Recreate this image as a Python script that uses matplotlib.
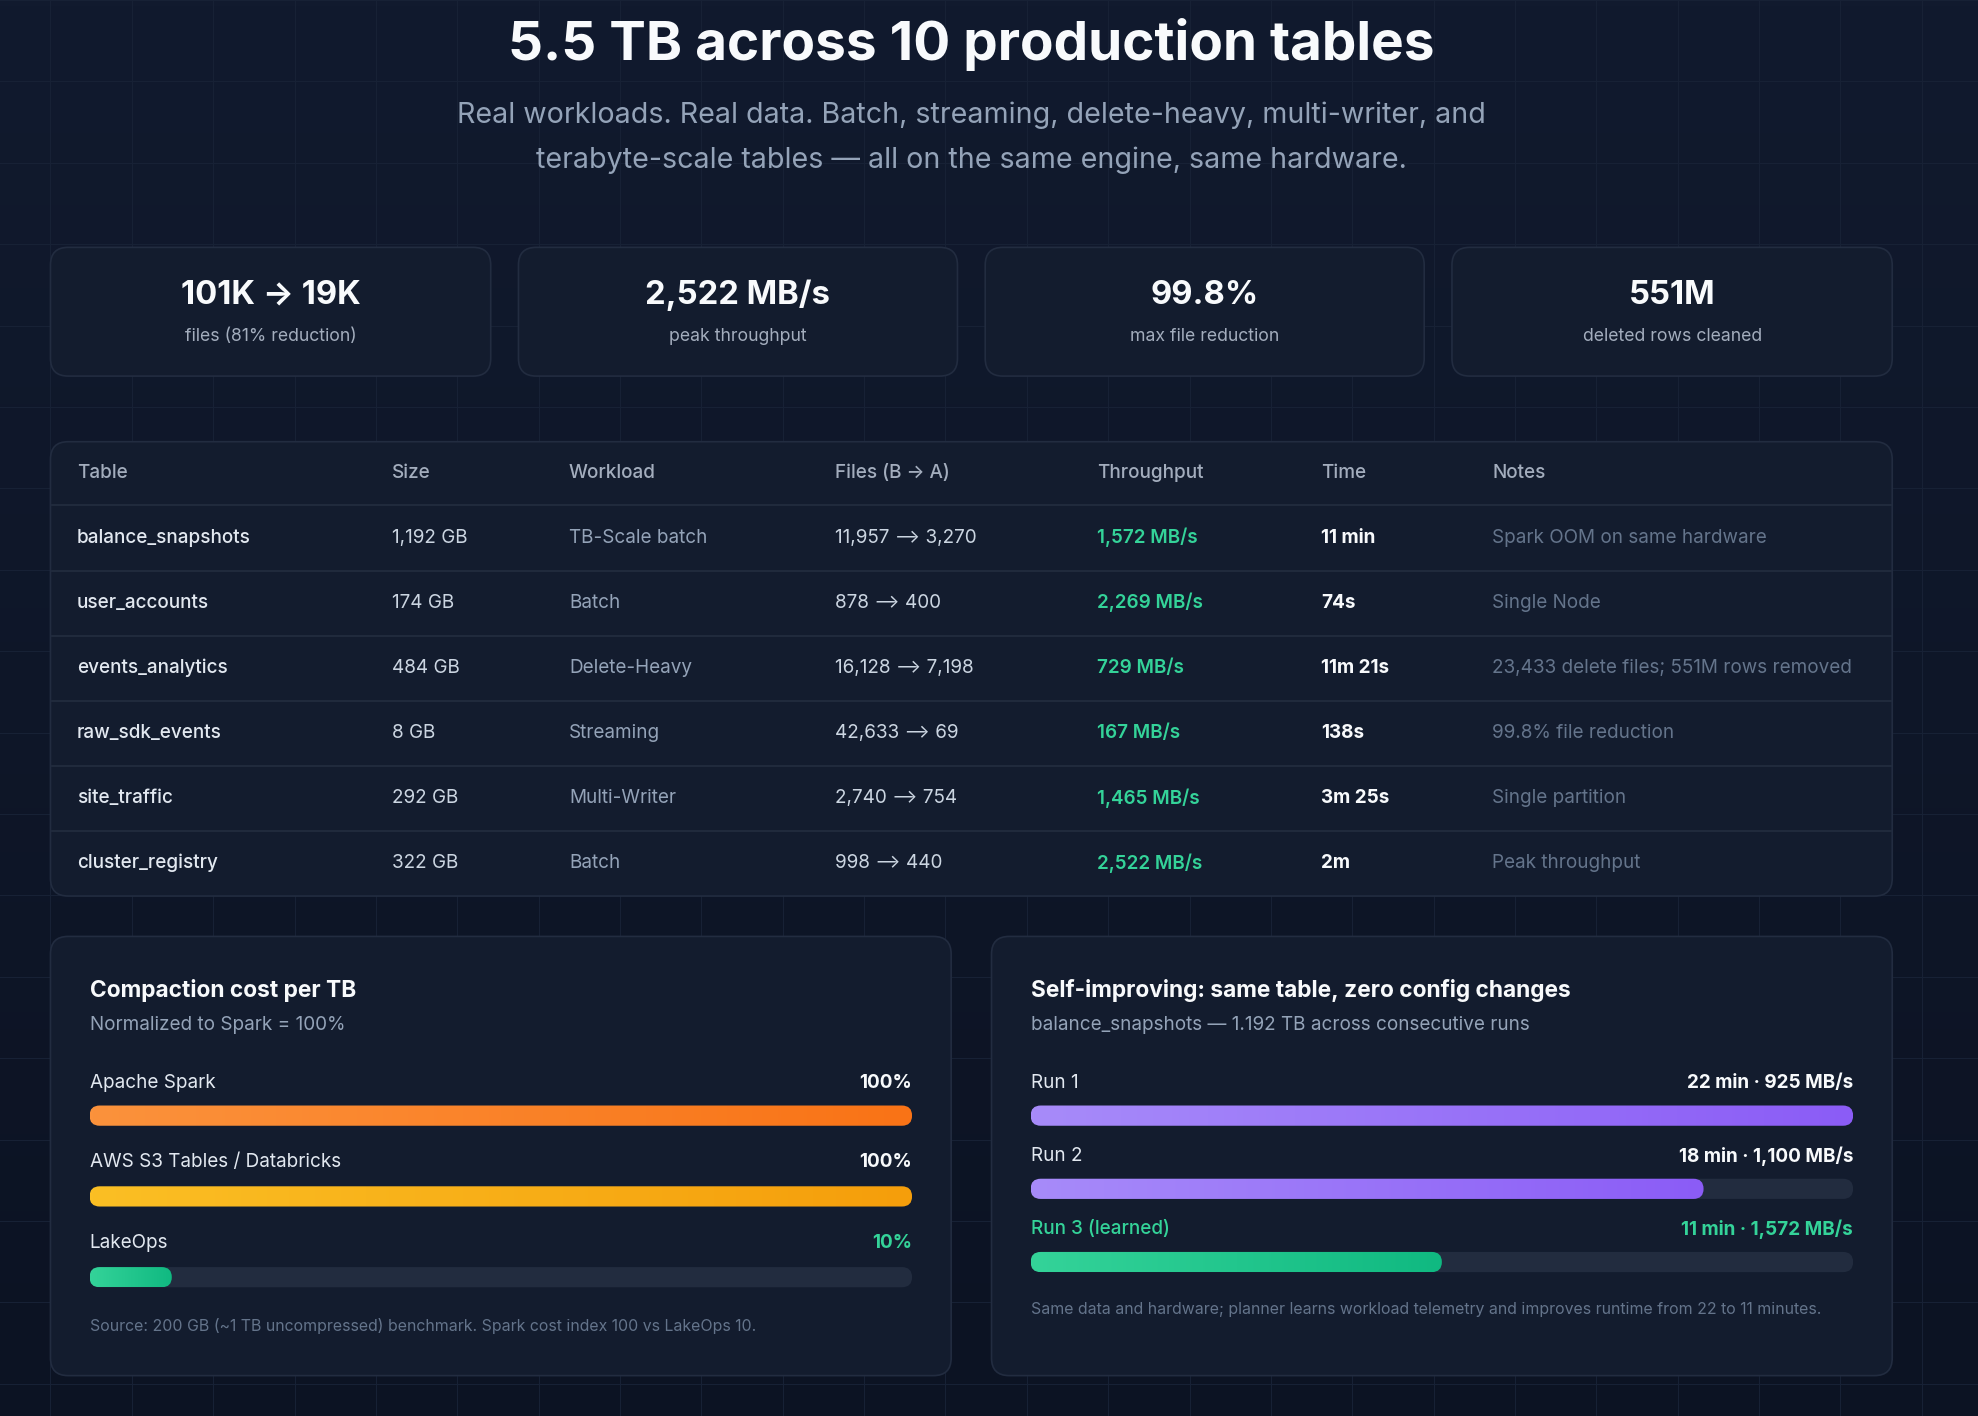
import matplotlib
matplotlib.use("Agg")
import matplotlib.pyplot as plt
import numpy as np
from matplotlib.patches import FancyBboxPatch
from matplotlib.colors import LinearSegmentedColormap

plt.rcParams['font.family'] = ['Inter', 'DejaVu Sans']

# ---------------- data ----------------
title = "5.5 TB across 10 production tables"
subtitle = ["Real workloads. Real data. Batch, streaming, delete-heavy, multi-writer, and",
            "terabyte-scale tables \u2014 all on the same engine, same hardware."]
kpi_values = ["101K \u2192 19K", "2,522 MB/s", "99.8%", "551M"]
kpi_labels = ["files (81% reduction)", "peak throughput", "max file reduction", "deleted rows cleaned"]

headers = ["Table", "Size", "Workload", "Files (B \u2192 A)", "Throughput", "Time", "Notes"]
tables = ["balance_snapshots", "user_accounts", "events_analytics", "raw_sdk_events", "site_traffic", "cluster_registry"]
sizes = ["1,192 GB", "174 GB", "484 GB", "8 GB", "292 GB", "322 GB"]
workloads = ["TB-Scale batch", "Batch", "Delete-Heavy", "Streaming", "Multi-Writer", "Batch"]
files = ["11,957 \u27f6 3,270", "878 \u27f6 400", "16,128 \u27f6 7,198", "42,633 \u27f6 69", "2,740 \u27f6 754", "998 \u27f6 440"]
throughput = ["1,572 MB/s", "2,269 MB/s", "729 MB/s", "167 MB/s", "1,465 MB/s", "2,522 MB/s"]
times = ["11 min", "74s", "11m 21s", "138s", "3m 25s", "2m"]
notes = ["Spark OOM on same hardware", "Single Node", "23,433 delete files; 551M rows removed",
         "99.8% file reduction", "Single partition", "Peak throughput"]

cost_labels = ["Apache Spark", "AWS S3 Tables / Databricks", "LakeOps"]
cost_values = [100, 100, 10]
run_labels = ["Run 1", "Run 2", "Run 3 (learned)"]
run_minutes = [22, 18, 11]
run_mbps = ["925", "1,100", "1,572"]

# ---------------- setup ----------------
W, H = 1568, 1122
fig = plt.figure(figsize=(19.78, 14.16), dpi=100)
fig.patch.set_facecolor('#0d1526')
ax = fig.add_axes([0, 0, 1, 1])
ax.set_xlim(0, W); ax.set_ylim(H, 0); ax.axis('off')

def fs(px):
    return px * 1978 / 1568 * 0.72

bg = np.linspace(0, 1, 256).reshape(-1, 1)
bgcm = LinearSegmentedColormap.from_list('bg', ['#111a2e', '#0c1323'])
ax.imshow(bg, extent=[0, W, H, 0], cmap=bgcm, aspect='auto', zorder=0)
for gx in np.arange(40, W, 64.5):
    ax.plot([gx, gx], [0, H], color='#172135', lw=0.8, zorder=0.5)
for gy in np.arange(0, H, 64.5):
    ax.plot([0, W], [gy, gy], color='#172135', lw=0.8, zorder=0.5)

def card(x0, y0, x1, y1, fc='#131c2e', ec='#222c40', r=14):
    p = FancyBboxPatch((x0, y0), x1 - x0, y1 - y0, boxstyle=f"round,pad=0,rounding_size={r}",
                       fc=fc, ec=ec, lw=1.2, zorder=1)
    ax.add_patch(p)

WHITE = '#f8fafc'
ax.text(770, 35, title, ha='center', va='center', color=WHITE, fontsize=fs(43.5), fontweight='bold', zorder=3)
ax.text(770, 91, subtitle[0], ha='center', va='center', color='#94a3b8', fontsize=fs(22.7), zorder=3)
ax.text(770, 127, subtitle[1], ha='center', va='center', color='#94a3b8', fontsize=fs(22.7), zorder=3)

kx = [(40, 389), (411, 759), (781, 1129), (1151, 1500)]
for (x0, x1), v, l in zip(kx, kpi_values, kpi_labels):
    card(x0, 196, x1, 298)
    cx = (x0 + x1) / 2
    ax.text(cx, 234, v, ha='center', va='center', color=WHITE, fontsize=fs(26), fontweight='bold', zorder=3)
    ax.text(cx, 267, l, ha='center', va='center', color='#a3adbd', fontsize=fs(14), zorder=3)

card(40, 350, 1500, 710)
colx = [61, 311, 451, 662, 870, 1047, 1183]
for x, h in zip(colx, headers):
    ax.text(x, 375, h, ha='left', va='center', color='#a3adbd', fontsize=fs(15), fontweight='medium', zorder=3)
row_y0, row_h = 426, 51.6
for i in range(len(tables)):
    y = row_y0 + i * row_h
    ax.plot([41, 1499], [y - 25.5, y - 25.5], color='#232d40', lw=1.2, zorder=2)
    cells = [tables[i], sizes[i], workloads[i], files[i], throughput[i], times[i], notes[i]]
    cols = ['#e2e8f0', '#cbd5e1', '#94a3b8', '#cbd5e1', '#34d399', WHITE, '#64748b']
    wts = ['medium', 'normal', 'normal', 'normal', 'semibold', 'bold', 'normal']
    for x, c, col, wt in zip(colx, cells, cols, wts):
        ax.text(x, y, c, ha='left', va='center', color=col, fontsize=fs(15), fontweight=wt, zorder=3,
                family=['Inter', 'DejaVu Sans'])

card(40, 742, 754, 1090)
card(786, 742, 1500, 1090)
ax.text(71, 785, "Compaction cost per TB", color=WHITE, fontsize=fs(18), fontweight='bold', va='center', zorder=3)
ax.text(71, 812, "Normalized to Spark = 100%", color='#94a3b8', fontsize=fs(15), va='center', zorder=3)
ax.text(71, 1051, "Source: 200 GB (~1 TB uncompressed) benchmark. Spark cost index 100 vs LakeOps 10.",
        color='#64748b', fontsize=fs(12.6), va='center', zorder=3)
ax.text(817, 785, "Self-improving: same table, zero config changes", color=WHITE, fontsize=fs(18),
        fontweight='bold', va='center', zorder=3)
ax.text(817, 812, "balance_snapshots \u2014 1.192 TB across consecutive runs", color='#94a3b8',
        fontsize=fs(15), va='center', zorder=3)
ax.text(817, 1038, "Same data and hardware; planner learns workload telemetry and improves runtime from 22 to 11 minutes.",
        color='#64748b', fontsize=fs(12.6), va='center', zorder=3)

def bar_axes(x0, xmax):
    bx = fig.add_axes([x0 / W, 1 - 1030 / H, 652 / W, (1030 - 840) / H])
    bx.set_xlim(0, xmax); bx.set_ylim(1030, 840); bx.axis('off')
    bx.patch.set_alpha(0)
    return bx

def draw_bars(bx, xmax, ys, vals, grads, labels, rights, lcols, rcols, labys):
    k = xmax / 652.0
    for y, v, g, lab, rt, lc, rc, ly in zip(ys, vals, grads, labels, rights, lcols, rcols, labys):
        track = FancyBboxPatch((0, y - 8), xmax, 16, boxstyle=f"round,pad=0,rounding_size={8*k}",
                               mutation_aspect=1 / k, fc='#222c3f', ec='none', zorder=1)
        bx.add_patch(track)
        b = bx.barh([y], [v], height=16, left=0, color='none', zorder=2)[0]
        rp = FancyBboxPatch((b.get_x(), b.get_y()), b.get_width(), b.get_height(),
                            boxstyle=f"round,pad=0,rounding_size={8*k}", mutation_aspect=1 / k,
                            fc='none', ec='none', zorder=2)
        bx.add_patch(rp)
        cm = LinearSegmentedColormap.from_list('g', g)
        im = bx.imshow(np.linspace(0, 1, 256).reshape(1, -1), extent=[0, v, y + 8, y - 8],
                       cmap=cm, aspect='auto', zorder=3)
        im.set_clip_path(rp)
        bx.text(0, ly, lab, color=lc, fontsize=fs(15), va='center', ha='left',
                fontweight='medium' if lc != '#e2e8f0' else 'normal')
        bx.text(xmax, ly, rt, color=rc, fontsize=fs(15), va='center', ha='right', fontweight='bold')
    bx.set_xlim(0, xmax); bx.set_ylim(1030, 840)

b1 = bar_axes(71, 100)
draw_bars(b1, 100, [884, 948, 1012], cost_values,
          [['#fb923c', '#f97316'], ['#fbbf24', '#f59e0b'], ['#34d399', '#10b981']],
          cost_labels, [f"{v}%" for v in cost_values],
          ['#e2e8f0', '#e2e8f0', '#e2e8f0'], [WHITE, WHITE, '#34d399'], [858, 921, 985])

b2 = bar_axes(817, 22)
draw_bars(b2, 22, [884, 942, 1000], run_minutes,
          [['#a78bfa', '#8b5cf6'], ['#a78bfa', '#8b5cf6'], ['#34d399', '#10b981']],
          run_labels, [f"{m} min \u00b7 {s} MB/s" for m, s in zip(run_minutes, run_mbps)],
          ['#e2e8f0', '#e2e8f0', '#34d399'], [WHITE, WHITE, '#34d399'], [858, 916, 974])

fig.savefig('out.png', dpi=100, facecolor=fig.get_facecolor())
